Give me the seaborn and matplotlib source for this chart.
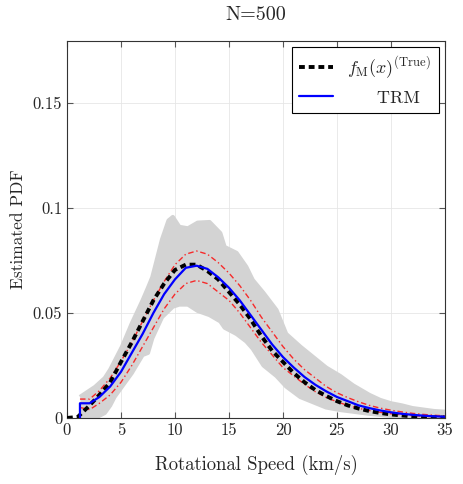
import numpy as np
import pandas as pd
import matplotlib
matplotlib.use("Agg")
import matplotlib.pyplot as plt
import seaborn as sns

# speeds (km/s) where the curves were read
speed = [0, 1, 2, 3, 4, 5, 6, 7, 8, 9, 10, 11, 12, 13, 14, 15, 16, 17,
         18, 19, 20, 21, 22, 23, 24, 25, 26, 27, 28, 29, 30, 31, 32, 33, 34, 35]
pdf_true = [0, 0.0005, 0.0055, 0.011, 0.017, 0.0267, 0.036, 0.046, 0.056, 0.064,
            0.0705, 0.073, 0.073, 0.070, 0.066, 0.060, 0.054, 0.047, 0.039, 0.032,
            0.0267, 0.0214, 0.017, 0.0133, 0.0105, 0.008, 0.006, 0.0045, 0.0033,
            0.0024, 0.0017, 0.0012, 0.0008, 0.0005, 0.0003, 0.0002]

# estimator curves start at 1.2 km/s
speed_est = [1.2, 1.2, 2.1, 3, 4, 5, 6, 7, 8, 9, 10, 11, 12, 13, 14, 15, 16, 17,
             18, 19, 20, 21, 22, 23, 24, 25, 26, 27, 28, 29, 30, 31, 32, 33, 34, 35]
pdf_trm = [0, 0.007, 0.007, 0.010, 0.015, 0.022, 0.031, 0.040, 0.050, 0.059,
           0.066, 0.0715, 0.0725, 0.071, 0.067, 0.062, 0.056, 0.049, 0.042, 0.035,
           0.029, 0.024, 0.0195, 0.0158, 0.0127, 0.010, 0.008, 0.006, 0.0047,
           0.0036, 0.0027, 0.002, 0.0015, 0.0011, 0.0008, 0.0006]
trm_upper = [0.009, 0.009, 0.009, 0.013, 0.019, 0.027, 0.036, 0.046, 0.056, 0.065,
             0.073, 0.078, 0.0795, 0.078, 0.074, 0.069, 0.063, 0.056, 0.048, 0.041,
             0.034, 0.028, 0.023, 0.019, 0.015, 0.012, 0.0097, 0.0077, 0.006,
             0.0047, 0.0037, 0.0029, 0.0022, 0.0017, 0.0013, 0.001]
trm_lower = [0.005, 0.005, 0.004, 0.007, 0.011, 0.017, 0.025, 0.034, 0.043, 0.052,
             0.059, 0.064, 0.0655, 0.064, 0.060, 0.056, 0.050, 0.043, 0.036, 0.030,
             0.024, 0.020, 0.016, 0.0125, 0.0098, 0.0077, 0.006, 0.0046, 0.0035,
             0.0027, 0.002, 0.0015, 0.0011, 0.0008, 0.0006, 0.0004]

# grey envelope
speed_band = [1.2, 2.6, 3.5, 4.0, 4.4, 5.1, 6.0, 7.0, 7.5, 7.9,
              8.8, 9.4, 9.8, 10.4, 11.2, 12.1, 13.2, 14.2, 14.6, 15.7,
              16.6, 17.2, 18.2, 19.4, 20.3, 21.6, 22.8, 24.0, 25.3, 26.5,
              28, 29, 30, 31, 32, 33, 34, 35]
band_upper = [0.010, 0.0148, 0.019, 0.023, 0.027, 0.034, 0.045, 0.056, 0.062, 0.067,
              0.085, 0.094, 0.0957, 0.091, 0.0903, 0.093, 0.0933, 0.088, 0.0814, 0.0786,
              0.072, 0.0657, 0.0595, 0.0514, 0.040, 0.034, 0.029, 0.024, 0.020, 0.0155,
              0.011, 0.0086, 0.007, 0.006, 0.0047, 0.004, 0.0033, 0.003]
band_lower = [0, 0, 0.0024, 0.006, 0.010, 0.015, 0.0214, 0.030, 0.031, 0.038,
              0.048, 0.051, 0.053, 0.054, 0.054, 0.051, 0.049, 0.046, 0.043, 0.040,
              0.0365, 0.033, 0.025, 0.020, 0.015, 0.010, 0.0075, 0.005, 0.0038, 0.003,
              0.002, 0.0015, 0.001, 0.0008, 0.0006, 0.0005, 0.0004, 0.0003]

y_ticks = [0, 0.05, 0.1, 0.15]
y_labels = ["0", "0.05", "0.1", "0.15"]
x_ticks = [0, 5, 10, 15, 20, 25, 30, 35]

df_true = pd.DataFrame({"speed": speed, "pdf": pdf_true})
df_est = pd.DataFrame({"speed": speed_est, "trm": pdf_trm,
                       "upper": trm_upper, "lower": trm_lower})
df_band = pd.DataFrame({"speed": speed_band, "lo": band_lower, "hi": band_upper})

sns.set_style("ticks")
plt.rcParams["font.family"] = ["cmr10", "DejaVu Serif"]
plt.rcParams["mathtext.fontset"] = "cm"
plt.rcParams["axes.formatter.use_mathtext"] = True

fig = plt.figure(figsize=(4.63, 4.84), dpi=100)
ax = fig.add_axes([0.1447, 0.1364, 0.8163, 0.7789])

grey = "#d3d3d3"
ax.fill_between(df_band["speed"], df_band["lo"], df_band["hi"], color=grey, lw=0, zorder=1)
# soften the envelope edges a little
for col in ["lo", "hi"]:
    sns.lineplot(data=df_band, x="speed", y=col, ax=ax, color=grey, lw=3,
                 estimator=None, sort=False, legend=False, zorder=1,
                 solid_joinstyle="round", solid_capstyle="butt")

for col in ["upper", "lower"]:
    sns.lineplot(data=df_est, x="speed", y=col, ax=ax, color="red", alpha=0.8,
                 lw=1.0, estimator=None, sort=False, legend=False, zorder=2)
    ax.lines[-1].set_dashes((4, 2, 1, 2))

sns.lineplot(data=df_true, x="speed", y="pdf", ax=ax, color="black", lw=2.8,
             estimator=None, sort=False, label=r"$f_{\mathrm{M}}(x)^{(\mathrm{True})}$",
             zorder=3)
ax.lines[-1].set_dashes((1.5, 1.0))
sns.lineplot(data=df_est, x="speed", y="trm", ax=ax, color="blue", lw=1.6,
             estimator=None, sort=False, label="     TRM", zorder=4)

ax.set_xlim(0, 35)
ax.set_ylim(0, 0.1795)
ax.set_xticks(x_ticks)
ax.set_xticklabels([str(t) for t in x_ticks])
ax.set_yticks(y_ticks)
ax.set_yticklabels(y_labels)
ax.grid(True, color="#e6e6e6", lw=0.6, zorder=0)
ax.set_axisbelow(True)
ax.tick_params(direction="in", top=True, right=True, labelsize=12, length=4,
               color="#555555")
for s in ax.spines.values():
    s.set_color("#333333")
    s.set_linewidth(0.8)

ax.set_title("N=500", fontsize=14.5, pad=15)
ax.set_xlabel("Rotational Speed (km/s)", fontsize=13.5, labelpad=12)
ax.set_ylabel("Estimated PDF", fontsize=12.5, labelpad=4.5)

leg = ax.legend(loc="upper right", fontsize=13, frameon=True, fancybox=False,
                edgecolor="black", framealpha=1, handlelength=1.9,
                borderaxespad=0.35)
leg.get_frame().set_linewidth(0.8)

fig.savefig("out.png", dpi=100)
